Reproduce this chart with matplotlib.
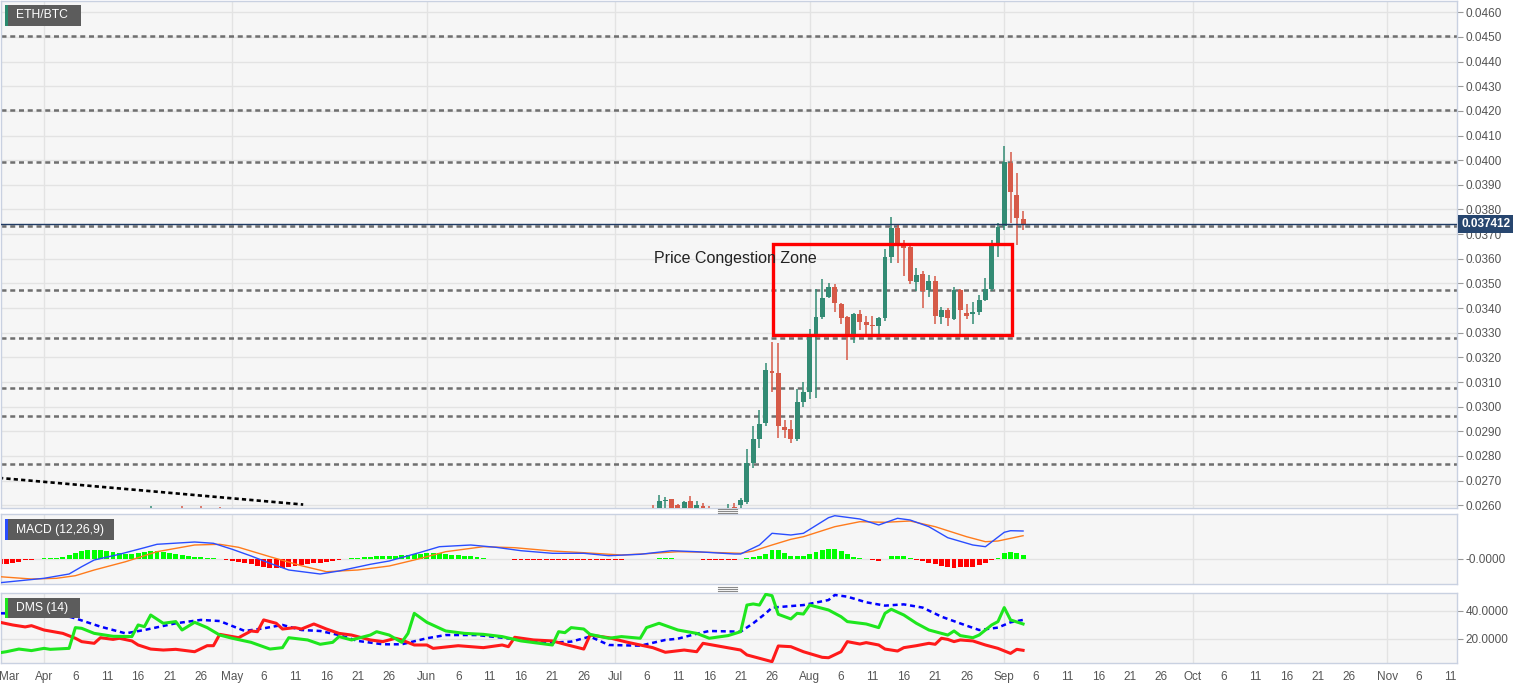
import matplotlib
matplotlib.use('Agg')
import matplotlib.pyplot as plt
import matplotlib.transforms as mtransforms
import numpy as np
from matplotlib.patches import Rectangle
from matplotlib.lines import Line2D

W, H = 1534, 689
plt.rcParams['font.family'] = ['Liberation Sans', 'DejaVu Sans']

# ---- data (x = days since 1 Apr 2020) ----
candle_days = [17, 22, 25, 28,
               97, 98, 99, 100, 101, 102, 103, 104, 105, 106, 107, 108, 109, 110, 111,
               112, 113, 114, 115, 116, 117, 118, 119, 120, 121, 122, 123, 124, 125,
               126, 127, 128, 129, 130, 131, 132, 133, 134, 135, 136, 137, 138, 139,
               140, 141, 142, 143, 144, 145, 146, 147, 148, 149, 150, 151, 152, 153,
               154, 155, 156]
opens = [0.02570, 0.02585, 0.02580, 0.02575,
         0.02590, 0.02570, 0.02619, 0.02624, 0.02600, 0.02585, 0.02616, 0.02580, 0.02598,
         0.02580, 0.02570, 0.02555, 0.02575, 0.02595, 0.02601,
         0.02615, 0.02773, 0.02869, 0.02933, 0.03146, 0.03136, 0.02919, 0.02908, 0.02868,
         0.03020, 0.03060, 0.03284, 0.03363, 0.03446,
         0.03484, 0.03415, 0.03362, 0.03281, 0.03376, 0.03343, 0.03330, 0.03326, 0.03360,
         0.03607, 0.03726, 0.03653, 0.03646, 0.03507,
         0.03538, 0.03473, 0.03511, 0.03363, 0.03392, 0.03356, 0.03473, 0.03379, 0.03376,
         0.03385, 0.03433, 0.03476, 0.03666, 0.03734,
         0.03987, 0.03859, 0.03762]
highs = [0.02597, 0.02598, 0.02596, 0.02595,
         0.02602, 0.02641, 0.02632, 0.02626, 0.02605, 0.02619, 0.02638, 0.02616, 0.02609,
         0.02596, 0.02585, 0.02590, 0.02605, 0.02610, 0.02628,
         0.02830, 0.02922, 0.02987, 0.03179, 0.03264, 0.03260, 0.02946, 0.02946, 0.03071,
         0.03101, 0.03315, 0.03476, 0.03517, 0.03501,
         0.03497, 0.03420, 0.03368, 0.03380, 0.03394, 0.03368, 0.03368, 0.03365, 0.03640,
         0.03768, 0.03741, 0.03676, 0.03663, 0.03564,
         0.03550, 0.03534, 0.03530, 0.03403, 0.03400, 0.03484, 0.03478, 0.03417, 0.03426,
         0.03453, 0.03523, 0.03676, 0.03744, 0.04058,
         0.04035, 0.03949, 0.03794]
lows = [0.02540, 0.02550, 0.02550, 0.02545,
        0.02555, 0.02550, 0.02575, 0.02550, 0.02560, 0.02565, 0.02560, 0.02565, 0.02560,
        0.02545, 0.02530, 0.02535, 0.02555, 0.02565, 0.02580,
        0.02605, 0.02750, 0.02831, 0.02920, 0.03061, 0.02872, 0.02872, 0.02852, 0.02860,
        0.02998, 0.03030, 0.03034, 0.03355, 0.03440,
        0.03385, 0.03336, 0.03189, 0.03260, 0.03311, 0.03286, 0.03286, 0.03286, 0.03348,
        0.03582, 0.03582, 0.03530, 0.03498, 0.03471,
        0.03399, 0.03446, 0.03336, 0.03336, 0.03327, 0.03350, 0.03291, 0.03355, 0.03336,
        0.03372, 0.03430, 0.03470, 0.03606, 0.03717,
        0.03744, 0.03656, 0.03717]
closes = [0.02585, 0.02570, 0.02565, 0.02560,
          0.02575, 0.02619, 0.02623, 0.02570, 0.02585, 0.02612, 0.02575, 0.02601, 0.02575,
          0.02570, 0.02555, 0.02575, 0.02590, 0.02580, 0.02622,
          0.02773, 0.02869, 0.02929, 0.03149, 0.03136, 0.02923, 0.02906, 0.02868, 0.03018,
          0.03058, 0.03284, 0.03363, 0.03440, 0.03484,
          0.03420, 0.03361, 0.03281, 0.03376, 0.03345, 0.03332, 0.03329, 0.03360, 0.03606,
          0.03726, 0.03656, 0.03645, 0.03510, 0.03534,
          0.03471, 0.03510, 0.03368, 0.03392, 0.03359, 0.03473, 0.03392, 0.03368, 0.03385,
          0.03433, 0.03476, 0.03656, 0.03730, 0.03992,
          0.03872, 0.03764, 0.037412]
last_price = 0.037412

levels = [0.04505, 0.04202, 0.03991, 0.03734, 0.03475, 0.03280, 0.03077, 0.02964, 0.02769]
trend_x = [-8, 41.3]
trend_y = [0.02713, 0.02603]
zone_x = [116.1, 154.3]
zone_y = [0.03289, 0.03660]

# MACD, in units of 2e-5 BTC
MACD_UNIT = 2e-5
macd_days = [-7, 0, 4, 6, 8, 12, 16, 18, 24, 27, 30, 33, 36, 39, 44, 47, 52, 55, 60, 63, 68,
             72, 76, 81, 86, 90, 95, 100, 104, 110, 111, 114, 116, 119, 121, 125, 126, 130,
             133, 136, 138, 141, 144, 148, 150, 153, 154, 156]
macd_line = [-23.7, -19.3, -15, -7.7, -1, 4.7, 11.3, 14.7, 17, 15.7, 9.7, 3, -4.3, -11, -15,
             -12, -5.3, -2, 6.7, 12.3, 14, 11.7, 8.3, 5.7, 5.7, 3.3, 4.7, 8.3, 7.3, 5, 5, 14,
             25.7, 24, 25.7, 41.3, 43.3, 40, 34, 40.7, 39, 32.3, 21.3, 14, 12.3, 26.7, 28.3, 28]
sig_days = [-7, -2, 2, 5, 8, 13, 18, 24, 28, 31, 36, 41, 45, 50, 55, 59, 64, 70, 75, 81, 86,
            92, 96, 101, 106, 111, 113, 116, 119, 121, 126, 130, 134, 138, 142, 147, 150,
            152, 156]
sig_line = [-17.7, -20, -19.3, -16.7, -11, -2.7, 7.3, 14, 14.7, 11.7, 2.3, -6.7, -12.7, -11,
            -7, -1, 7.3, 12.3, 11.3, 8, 6.3, 4, 5.3, 7.3, 6.7, 5.7, 8, 14, 19.7, 22.3, 32.3,
            37.3, 36.7, 38, 32.3, 22.3, 17.3, 18, 23.3]
hist_days = list(range(-7, 157))
hist = [-5, -4.7, -4, -3, -1.5, -0.8, 0.3, 0.5, 0.8, 1.3, 2, 3.5, 5.5, 7.7, 9, 9.2, 8.7, 7.5,
        6.5, 5.5, 4.8, 4.5, 6, 6.7, 7.5, 7.5, 7, 6, 5, 3.7, 2.8, 2.3, 1.9, 1.3, 0.7, 0.3,
        -1, -2.1, -3.4, -4.3, -5.3, -6.8, -8, -9, -9.3, -8.7, -8, -7, -6.2, -5.2, -4.3, -3.8,
        -3, -2, -1, -0.5, 0.6, 1, 1.7, 2.3, 2.7, 3, 3.3, 3.3, 3.7, 4.2, 4.6, 5.3, 6, 6, 5.7,
        4.7, 4.2, 3.7, 3.2, 2.6, 2, 1.2, 0.4, 0.2, 0.1, -0.3, -0.7, -0.8, -1, -1, -1.2, -1.3,
        -1.5, -1.5, -1.3, -1.2, -1, -1, -0.9, -0.8, -0.8, -0.7, -0.7, -0.6, -0.5, -0.4,
        -0.3, -0.2, 0.3, 0.5, 0.6, 0.5, 0.4, 0.3, 0.1, -0.2, -0.7, -0.9, -1, -1, -0.9, -0.7,
        -0.5, 0.7, 1.7, 3.3, 5, 8.5, 8.5, 5.5, 3.3, 3.3, 3.3, 4.5, 6.5, 8.7, 10, 10, 8, 4.5,
        2.3, 0.7, -0.4, -1.2, -1.8, 0.2, 2.8, 3, 2.8, 0.6, -1, -2.3, -3.8, -5.5, -7.2, -8,
        -8.6, -8.5, -8.3, -7.7, -6.5, -4.5, -1.5, 0.8, 5.5, 7, 5.7, 3.7]

# DMS (14)
pdi_days = [-7, -6, -4, -2, 0, 1, 4, 5, 6, 8, 11, 14, 15, 16, 17, 19, 21, 22, 24, 26, 28, 30,
            33, 36, 38, 39, 42, 44, 46, 47, 49, 52, 53, 55, 57, 58, 59, 61, 64, 67, 70, 73,
            76, 81, 82, 83, 84, 86, 87, 90, 92, 95, 96, 98, 101, 104, 106, 109, 111, 112,
            113, 114, 115, 116, 117, 119, 120, 121, 122, 125, 127, 128, 131, 133, 134, 135,
            137, 139, 141, 143, 144, 145, 146, 148, 149, 151, 152, 153, 154, 156]
pdi = [10, 10.7, 12.6, 11.5, 13.1, 12.4, 13.1, 27.9, 27.4, 23.8, 21.7, 21.5, 29.8, 28.6, 36.9,
       31, 32.2, 26.2, 31.7, 27.9, 22.6, 20.3, 17.4, 12.6, 13.6, 20.7, 19.1, 16, 17.4, 21.5,
       19.1, 22.6, 25, 22.6, 17.4, 23.8, 38.1, 31.7, 25.5, 23.8, 23.1, 21.5, 18.4, 15.5, 25,
       24.3, 27.9, 26.9, 23.1, 20.3, 21.5, 20.3, 27.9, 31, 26.2, 23.8, 20.3, 22.2, 25, 44,
       44.8, 44, 51.7, 50.7, 37.4, 34.1, 38.1, 37.6, 44, 40.5, 35.7, 32.2, 30.5, 27.9, 38.1,
       41, 36.9, 31, 26.2, 23.8, 22.6, 25.5, 22.2, 20.7, 22.6, 29.8, 32.2, 42.2, 33.4, 30.5]
mdi_days = [-7, -5, -3, -2, 0, 3, 5, 6, 8, 9, 11, 12, 14, 15, 17, 19, 21, 24, 26, 27, 28, 31,
            33, 34, 35, 37, 38, 40, 41, 43, 45, 47, 49, 52, 54, 56, 57, 59, 61, 62, 66, 70,
            73, 74, 75, 78, 81, 83, 86, 87, 90, 93, 97, 99, 102, 104, 105, 108, 111, 112, 115,
            116, 117, 119, 121, 124, 125, 127, 128, 130, 131, 133, 134, 136, 137, 139, 141,
            142, 143, 144, 145, 146, 148, 150, 152, 154, 155, 156]
mdi = [31.7, 29.8, 28.4, 29.3, 26.2, 23.8, 20.3, 17.9, 16.7, 20.7, 19.5, 20.3, 18.4, 15.5,
       12.6, 11.9, 12.4, 10.7, 15, 15, 23.1, 20.7, 25.5, 25, 33.4, 31, 26.9, 27.9, 26.9, 30.5,
       26.9, 23.8, 22.6, 19.1, 17.9, 20.3, 19.1, 15.5, 15.5, 13.1, 15, 13.6, 15.5, 14.3, 21,
       19.1, 18.4, 16, 12.6, 22.6, 20.7, 17.4, 13.6, 10.3, 11.9, 10.7, 16.7, 14.3, 11.9, 8.4,
       4.8, 3.6, 14.8, 14.3, 10.7, 6.7, 6.4, 10.7, 17.9, 16.2, 17.2, 15.5, 12.6, 11.2, 13.6,
       15, 16.7, 16, 20.3, 19.5, 17.9, 19.1, 18.4, 15.5, 13.1, 9.5, 12.4, 11.7]
adx_days = [-7, 2, 5, 9, 13, 16, 21, 25, 28, 32, 35, 38, 41, 44, 47, 50, 54, 57, 61, 64, 69,
            73, 76, 81, 84, 87, 90, 95, 99, 101, 104, 106, 111, 113, 115, 116, 121, 125, 126,
            128, 131, 134, 137, 140, 143, 147, 149, 152, 154, 156]
adx = [38.1, 38.1, 34.5, 28.6, 23.8, 26.2, 31, 33.4, 32.6, 25.5, 27.4, 29.8, 26.2, 25.5, 22.6,
       18.4, 16, 16, 20.3, 22.6, 22.6, 20.7, 19.1, 17.2, 17.9, 21.5, 15.5, 15, 19.1, 20,
       23.5, 25.5, 25, 31, 38.1, 42.2, 44, 47.6, 51.2, 50, 46, 43.6, 44.5, 42.2, 35.7, 29.3,
       26.2, 27.9, 31.7, 33.4]

tick_days = [-5.6, 0, 5, 10, 15, 20, 25, 30, 35, 40, 45, 50, 55, 61, 66, 71, 76, 81, 86,
             91, 96, 101, 106, 111, 116, 122, 127, 132, 137, 142, 147, 153, 158, 163, 168,
             173, 178, 183, 188, 193, 198, 203, 208, 214, 219, 224]
tick_labels = ['Mar', 'Apr', '6', '11', '16', '21', '26', 'May', '6', '11', '16', '21', '26',
               'Jun', '6', '11', '16', '21', '26', 'Jul', '6', '11', '16', '21', '26',
               'Aug', '6', '11', '16', '21', '26', 'Sep', '6', '11', '16', '21', '26',
               'Oct', '6', '11', '16', '21', '26', 'Nov', '6', '11']
month_starts = [0, 30, 61, 91, 122, 153, 183, 214]

# ---- figure ----
fig = plt.figure(figsize=(W / 100, H / 100), dpi=100)


def fbox(x0, y0, x1, y1):
    return [x0 / W, 1 - y1 / H, (x1 - x0) / W, (y1 - y0) / H]


ax = fig.add_axes(fbox(0.5, 1, 1457, 508))
ax_m = fig.add_axes(fbox(0.5, 514.3, 1457, 584.3), sharex=ax)
ax_d = fig.add_axes(fbox(0.5, 593.3, 1457, 662.7), sharex=ax)

for a in (ax, ax_m, ax_d):
    a.set_facecolor('#f6f6f6')
    for s in a.spines.values():
        s.set_color('#c9d1e1')
        s.set_linewidth(1)
    a.yaxis.tick_right()
    a.tick_params(axis='y', labelsize=8.5, labelcolor='#555555', color='#999999',
                  length=4, width=0.8, pad=2)
    a.tick_params(axis='x', length=0, labelbottom=False)
    for m in month_starts:
        a.axvline(m, color='#e3e3e3', lw=1, zorder=0)
    a.set_axisbelow(True)

ax.set_xlim(-6.93, 225.14)

# main price panel
ax.set_ylim(0.02589, 0.046458)
ax.set_yticks(np.arange(0.026, 0.04605, 0.001))
ax.yaxis.set_major_formatter(plt.FuncFormatter(lambda v, p: f'{v:.4f}'))
ax.grid(axis='y', color='#e3e3e3', lw=1)

for lv in levels:
    ax.axhline(lv, color='#6f6f6f', lw=1.8, dashes=(2.0, 1.5), zorder=1)

ax.plot(trend_x, trend_y, color='black', lw=1.9, dashes=(1.6, 1.2), zorder=2)

o = np.array(opens); c = np.array(closes)
hi = np.array(highs); lo = np.array(lows)
up = c >= o
col = np.where(up, '#338b74', '#d65a48')
ax.vlines(candle_days, lo, hi, colors=col, lw=1.1, zorder=3)
body = np.maximum(np.abs(c - o), 0.00004)
ax.bar(candle_days, body, bottom=np.minimum(o, c), width=0.78, color=col, zorder=4)

ax.axhline(last_price, color='#1f3a63', lw=1, zorder=5)

ax.add_patch(Rectangle((zone_x[0], zone_y[0]), zone_x[1] - zone_x[0], zone_y[1] - zone_y[0],
                       fill=False, ec='#ff0000', lw=2.4, zorder=6))
ax.text(97.2, 0.03601, 'Price Congestion Zone', fontsize=11.5, color='#222222',
        ha='left', va='center', zorder=7)

trans = mtransforms.blended_transform_factory(ax.transAxes, ax.transData)
ax.text(1.003, last_price, '0.037412', transform=trans, fontsize=8.5, fontweight='bold',
        color='white', ha='left', va='center', clip_on=False, zorder=10,
        bbox=dict(boxstyle='square,pad=0.25', fc='#27466f', ec='none'))

# MACD panel
ax_m.set_ylim(-25.3 * MACD_UNIT, 44.7 * MACD_UNIT)
ax_m.set_yticks([0])
ax_m.set_yticklabels(['-0.0000'])
ax_m.grid(axis='y', color='#e3e3e3', lw=1)
hv = np.array(hist)
ax_m.bar(hist_days, hv * MACD_UNIT, width=0.78,
         color=np.where(hv >= 0, '#00ff00', '#ff0000'), zorder=2)
ax_m.plot(sig_days, np.array(sig_line) * MACD_UNIT, color='#ff7b1c', lw=1, zorder=3)
ax_m.plot(macd_days, np.array(macd_line) * MACD_UNIT, color='#2a4dff', lw=1, zorder=4)

# DMS panel
ax_d.set_ylim(2.86, 52.4)
ax_d.set_yticks([20, 40])
ax_d.set_yticklabels(['20.0000', '40.0000'])
ax_d.grid(axis='y', color='#e3e3e3', lw=1)
ax_d.plot(adx_days, adx, color='#0000ff', lw=1.8, dashes=(2, 1.5), zorder=3)
ax_d.plot(mdi_days, mdi, color='#ff1a1a', lw=2.2, zorder=4)
ax_d.plot(pdi_days, pdi, color='#1ee61e', lw=2.2, zorder=5)
ax_d.set_xticks(tick_days)
ax_d.set_xticklabels(tick_labels)
ax_d.tick_params(axis='x', labelbottom=True, labelsize=8.5, labelcolor='#555555', pad=6)

# panel legends


def label_box(x0, y0, x1, y1, stripe, text):
    fig.add_artist(Rectangle((x0 / W, 1 - y1 / H), (x1 - x0) / W, (y1 - y0) / H,
                             transform=fig.transFigure, fc='#5c5c5c', ec='none', zorder=20))
    fig.add_artist(Rectangle((x0 / W, 1 - y1 / H), 2.5 / W, (y1 - y0) / H,
                             transform=fig.transFigure, fc=stripe, ec='none', zorder=21))
    fig.text((x0 + 11) / W, 1 - (y0 + y1) / 2 / H, text, color='white', fontsize=8.7,
             ha='left', va='center', zorder=22)


label_box(5, 5, 81, 26, '#2a8a6e', 'ETH/BTC')
label_box(5, 519, 114, 540, '#2a4dff', 'MACD (12,26,9)')
label_box(5, 598, 80, 618, '#1ee61e', 'DMS (14)')

# pane grips
for gy in (508.5, 510.5, 512.5, 587, 589, 591):
    fig.add_artist(Line2D([718 / W, 737 / W], [1 - gy / H, 1 - gy / H],
                          transform=fig.transFigure, color='#8a8a8a', lw=0.8))

fig.savefig('out.png', dpi=100, facecolor='white')
